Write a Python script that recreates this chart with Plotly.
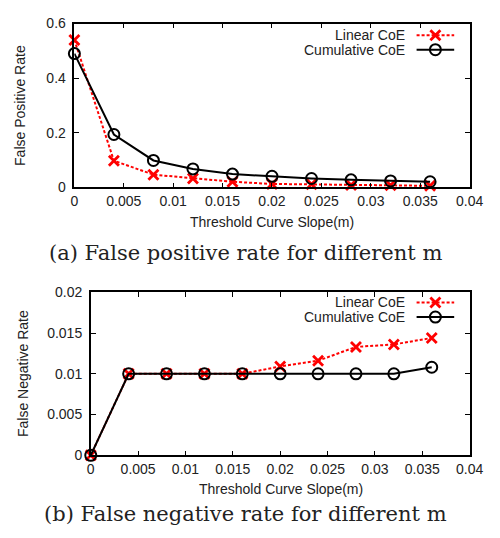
import plotly.graph_objects as go

# ---- data ----
slope_m = [0, 0.004, 0.008, 0.012, 0.016, 0.02, 0.024, 0.028, 0.032, 0.036]
fp_linear = [0.54, 0.098, 0.047, 0.033, 0.021, 0.013, 0.012, 0.009, 0.008, 0.006]
fp_cumulative = [0.49, 0.194, 0.099, 0.068, 0.049, 0.041, 0.033, 0.028, 0.024, 0.021]
fn_linear = [0, 0.01, 0.01, 0.01, 0.01, 0.0109, 0.0116, 0.0133, 0.0136, 0.0144]
fn_cumulative = [0, 0.01, 0.01, 0.01, 0.01, 0.01, 0.01, 0.01, 0.01, 0.0108]

x_ticks = [0, 0.005, 0.01, 0.015, 0.02, 0.025, 0.03, 0.035, 0.04]
x_ticklabels = ["0", "0.005", "0.01", "0.015", "0.02", "0.025", "0.03", "0.035", "0.04"]
fp_ticks = [0, 0.2, 0.4, 0.6]
fp_ticklabels = ["0", "0.2", "0.4", "0.6"]
fn_ticks = [0, 0.005, 0.01, 0.015, 0.02]
fn_ticklabels = ["0", "0.005", "0.01", "0.015", "0.02"]

series_names = ["Linear CoE", "Cumulative CoE"]
x_title = "Threshold Curve Slope(m)"
y_titles = ["False Positive Rate", "False Negative Rate"]
captions = ["(a) False positive rate for different m", "(b) False negative rate for different m"]

W, H = 500, 538
SANS = "Liberation Sans, Arial, sans-serif"
SERIF = "DejaVu Serif, serif"
RED = "#ff0000"

lin_line = dict(color=RED, width=2, dash="3px,2px")
lin_marker = dict(symbol="x-thin", size=10, line=dict(color=RED, width=2.8))
cum_line = dict(color="black", width=2)
cum_marker = dict(symbol="circle-open", size=11, color="black", line=dict(color="black", width=2))

fig = go.Figure()

panels = [
    dict(xa="x", ya="y", lin=fp_linear, cum=fp_cumulative),
    dict(xa="x2", ya="y2", lin=fn_linear, cum=fn_cumulative),
]
for p in panels:
    fig.add_trace(go.Scatter(x=slope_m, y=p["lin"], mode="lines+markers", line=lin_line,
                             marker=lin_marker, xaxis=p["xa"], yaxis=p["ya"], showlegend=False,
                             cliponaxis=False))
    fig.add_trace(go.Scatter(x=slope_m, y=p["cum"], mode="lines+markers", line=cum_line,
                             marker=cum_marker, xaxis=p["xa"], yaxis=p["ya"], showlegend=False,
                             cliponaxis=False))

# legend samples drawn on a pixel-space overlay axis
legend_rows = [(28, 43), (303.5, 318.5)]
text_right = 418
samp_x0, samp_x1 = 428, 467
annotations = []
for (ry_lin, ry_cum) in legend_rows:
    fig.add_trace(go.Scatter(x=[samp_x0, samp_x1], y=[ry_lin, ry_lin], mode="lines", line=lin_line,
                             xaxis="x3", yaxis="y3", showlegend=False, hoverinfo="skip"))
    fig.add_trace(go.Scatter(x=[(samp_x0 + samp_x1) / 2], y=[ry_lin], mode="markers", marker=lin_marker,
                             xaxis="x3", yaxis="y3", showlegend=False, hoverinfo="skip"))
    fig.add_trace(go.Scatter(x=[samp_x0, samp_x1], y=[ry_cum, ry_cum], mode="lines", line=cum_line,
                             xaxis="x3", yaxis="y3", showlegend=False, hoverinfo="skip"))
    fig.add_trace(go.Scatter(x=[(samp_x0 + samp_x1) / 2], y=[ry_cum], mode="markers", marker=cum_marker,
                             xaxis="x3", yaxis="y3", showlegend=False, hoverinfo="skip"))
    for name, ry in zip(series_names, (ry_lin, ry_cum)):
        annotations.append(dict(x=text_right, y=ry, xref="x3", yref="y3", text=name, showarrow=False,
                                xanchor="right", yanchor="middle", font=dict(family=SANS, size=14, color="#222")))

def px_x(v):
    return v / W

def px_y(v):
    return 1 - v / H

# axis titles & captions
annotations += [
    dict(x=px_x(278), y=px_y(221), xref="paper", yref="paper", text=x_title, showarrow=False,
         xanchor="center", yanchor="middle", font=dict(family=SANS, size=14, color="#222")),
    dict(x=px_x(287), y=px_y(496), xref="paper", yref="paper", text=x_title, showarrow=False,
         xanchor="center", yanchor="middle", font=dict(family=SANS, size=14, color="#222")),
    dict(x=px_x(16), y=px_y(100.5), xref="paper", yref="paper", text=y_titles[0], showarrow=False,
         textangle=-90, xanchor="center", yanchor="middle", font=dict(family=SANS, size=14, color="#222")),
    dict(x=px_x(20), y=px_y(377), xref="paper", yref="paper", text=y_titles[1], showarrow=False,
         textangle=-90, xanchor="center", yanchor="middle", font=dict(family=SANS, size=14, color="#222")),
    dict(x=px_x(251), y=px_y(253), xref="paper", yref="paper", text=captions[0], showarrow=False,
         xanchor="center", yanchor="middle", font=dict(family=SERIF, size=21, color="#222")),
    dict(x=px_x(251), y=px_y(521), xref="paper", yref="paper", text=captions[1], showarrow=False,
         xanchor="center", yanchor="middle", font=dict(family=SERIF, size=21, color="#222")),
]

axis_common = dict(showgrid=False, zeroline=False, showline=True, linecolor="black", linewidth=1.5,
                   mirror="ticks", ticks="inside", ticklen=5, tickwidth=1, tickcolor="black",
                   tickfont=dict(family=SANS, size=14, color="#222"))

fig.update_layout(
    width=W, height=H, margin=dict(l=0, r=0, t=0, b=0),
    paper_bgcolor="white", plot_bgcolor="rgba(0,0,0,0)",
    showlegend=False,
    xaxis=dict(domain=[73 / W, 483 / W], range=[0, 0.04], tickvals=x_ticks, ticktext=x_ticklabels,
               anchor="y", **axis_common),
    yaxis=dict(domain=[px_y(185), px_y(16)], range=[0, 0.6], tickvals=fp_ticks, ticktext=fp_ticklabels,
               anchor="x", ticklabelstandoff=4, **axis_common),
    xaxis2=dict(domain=[90 / W, 483 / W], range=[0, 0.04], tickvals=x_ticks, ticktext=x_ticklabels,
                anchor="y2", **axis_common),
    yaxis2=dict(domain=[px_y(461), px_y(293)], range=[0, 0.02], tickvals=fn_ticks, ticktext=fn_ticklabels,
                anchor="x2", ticklabelstandoff=4, **axis_common),
    xaxis3=dict(domain=[0, 1], range=[0, W], visible=False, anchor="y3", fixedrange=True),
    yaxis3=dict(domain=[0, 1], range=[H, 0], visible=False, anchor="x3", fixedrange=True),
    annotations=annotations,
)

fig.write_html("out.html")
